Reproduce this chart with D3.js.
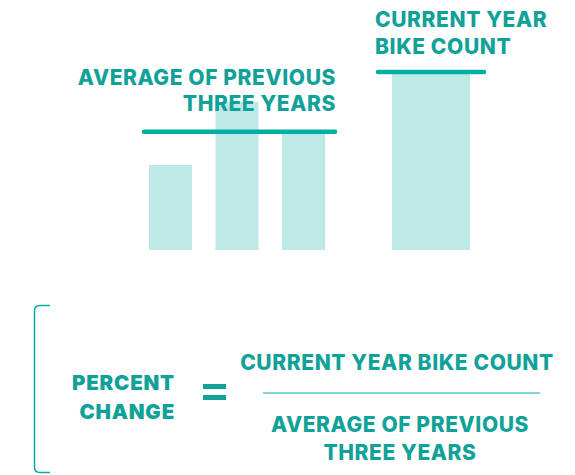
<!DOCTYPE html>
<html>
<head>
<meta charset="utf-8">
<script src="https://cdn.jsdelivr.net/npm/d3@7"></script>
<style>
  html, body { margin: 0; padding: 0; background: #fff; }
  svg { display: block; }
  .lbl { font-family: Inter, "Noto Sans", sans-serif; font-weight: 800; fill: #10a199; font-size: 21px; letter-spacing: 0.6px; }
  .big { font-family: Inter, "DejaVu Sans", sans-serif; font-weight: 900; fill: #10a199; font-size: 20.5px; letter-spacing: 0.8px; }
</style>
</head>
<body>
<div id="chart"></div>
<script>
(function () {
    'use strict';

    // bike counts (relative units)
    var previousYears = ['Year 1', 'Year 2', 'Year 3'];
    var previousCounts = [85, 148, 116];
    var currentYear = ['Current'];
    var currentCounts = [176];

    var avgLabel = ['AVERAGE OF PREVIOUS', 'THREE YEARS'];
    var currentLabel = ['CURRENT YEAR', 'BIKE COUNT'];
    var leftLabel = ['PERCENT', 'CHANGE'];
    var numeratorLabel = ['CURRENT YEAR BIKE COUNT'];
    var denominatorLabel = ['AVERAGE OF PREVIOUS', 'THREE YEARS'];

    var width = 575,
        height = 475,
        teal = '#00aea6',
        textTeal = '#10a199',
        barColor = '#bee9e6';

    var svg = d3.select('#chart').append('svg')
        .attr('width', width)
        .attr('height', height);

    var y = d3.scaleLinear()
        .domain([0, 200])
        .range([250, 50]);

    var xPrev = d3.scaleBand()
        .domain(previousYears)
        .range([149, 325])
        .paddingInner(0.353)
        .paddingOuter(0);

    var xCur = d3.scaleBand()
        .domain(currentYear)
        .range([392, 470]);

    var avg = d3.mean(previousCounts);

    // bars
    svg.append('g').selectAll('rect')
        .data(previousCounts)
        .join('rect')
        .attr('x', function (d, i) { return xPrev(previousYears[i]); })
        .attr('y', function (d) { return y(d); })
        .attr('width', xPrev.bandwidth())
        .attr('height', function (d) { return y(0) - y(d); })
        .attr('fill', barColor);

    svg.append('g').selectAll('rect')
        .data(currentCounts)
        .join('rect')
        .attr('x', function (d, i) { return xCur(currentYear[i]); })
        .attr('y', function (d) { return y(d); })
        .attr('width', xCur.bandwidth())
        .attr('height', function (d) { return y(0) - y(d); })
        .attr('fill', barColor);

    // labels above the bars
    svg.append('text')
        .attr('class', 'lbl')
        .attr('text-anchor', 'end')
        .selectAll('tspan')
        .data(avgLabel)
        .join('tspan')
        .attr('x', 336)
        .attr('y', function (d, i) { return 85 + i * 26; })
        .text(function (d) { return d; });

    svg.append('text')
        .attr('class', 'lbl')
        .selectAll('tspan')
        .data(currentLabel)
        .join('tspan')
        .attr('x', 375)
        .attr('y', function (d, i) { return 27 + i * 27; })
        .text(function (d) { return d; });

    // average line and current line
    svg.append('line')
        .attr('x1', xPrev(previousYears[0]) - 5)
        .attr('x2', 335)
        .attr('y1', y(avg) - 2)
        .attr('y2', y(avg) - 2)
        .attr('stroke', teal)
        .attr('stroke-width', 4.5)
        .attr('stroke-linecap', 'round');

    svg.append('line')
        .attr('x1', xCur(currentYear[0]) - 14)
        .attr('x2', xCur(currentYear[0]) + xCur.bandwidth() + 14)
        .attr('y1', y(currentCounts[0]) - 2)
        .attr('y2', y(currentCounts[0]) - 2)
        .attr('stroke', teal)
        .attr('stroke-width', 4.5)
        .attr('stroke-linecap', 'round');

    // formula section
    svg.append('path')
        .attr('d', 'M50,305.5 H40 Q34.5,305.5 34.5,311 V467 Q34.5,472.5 40,472.5 H50')
        .attr('fill', 'none')
        .attr('stroke', teal)
        .attr('stroke-width', 1.5);

    svg.append('text')
        .attr('class', 'big')
        .attr('text-anchor', 'end')
        .selectAll('tspan')
        .data(leftLabel)
        .join('tspan')
        .attr('x', 175)
        .attr('y', function (d, i) { return 390 + i * 29; })
        .text(function (d) { return d; });

    // equals sign
    svg.append('g').selectAll('rect')
        .data([384, 395])
        .join('rect')
        .attr('x', 203)
        .attr('y', function (d) { return d; })
        .attr('width', 23)
        .attr('height', 5)
        .attr('fill', textTeal);

    svg.append('text')
        .attr('class', 'lbl')
        .attr('text-anchor', 'middle')
        .attr('x', 397)
        .attr('y', 370)
        .text(numeratorLabel[0]);

    svg.append('line')
        .attr('x1', 263)
        .attr('x2', 540)
        .attr('y1', 393)
        .attr('y2', 393)
        .attr('stroke', teal)
        .attr('stroke-width', 1.2);

    svg.append('text')
        .attr('class', 'lbl')
        .attr('text-anchor', 'middle')
        .selectAll('tspan')
        .data(denominatorLabel)
        .join('tspan')
        .attr('x', 400)
        .attr('y', function (d, i) { return 432 + i * 28; })
        .text(function (d) { return d; });

})();
</script>
</body>
</html>
